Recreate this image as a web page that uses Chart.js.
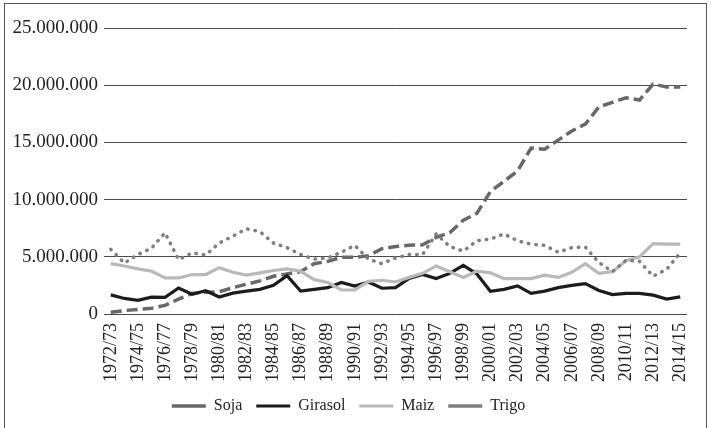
<!DOCTYPE html>
<html>
<head>
<meta charset="utf-8">
<script src="https://cdn.jsdelivr.net/npm/chart.js@4/dist/chart.umd.min.js"></script>
<style>
  html,body{margin:0;padding:0;background:#fff;}
  #wrap{position:relative;width:711px;height:428px;overflow:hidden;}
  #frame{position:absolute;left:4px;top:3px;width:703px;height:430px;border:1px solid #555;box-sizing:border-box;pointer-events:none;}
  canvas{position:absolute;left:0;top:0;}
</style>
</head>
<body>
<div id="wrap">
<canvas id="c" width="711" height="428"></canvas>
<div id="frame"></div>
</div>
<script>
const categories = ["1972/73","1973/74","1974/75","1975/76","1976/77","1977/78","1978/79","1979/80","1980/81","1981/82","1982/83","1983/84","1984/85","1985/86","1986/87","1987/88","1988/89","1989/90","1990/91","1991/92","1992/93","1993/94","1994/95","1995/96","1996/97","1997/98","1998/99","1999/00","2000/01","2001/02","2002/03","2003/04","2004/05","2005/06","2006/07","2007/08","2008/09","2009/10","2010/11","2011/12","2012/13","2013/14","2014/15"];

const soja = [150000,300000,400000,500000,750000,1300000,1800000,1900000,1950000,2300000,2600000,2900000,3300000,3500000,3700000,4400000,4600000,4950000,4950000,5100000,5700000,5900000,6000000,6050000,6700000,7100000,8200000,8800000,10700000,11600000,12500000,14500000,14400000,15200000,16000000,16600000,18100000,18500000,18900000,18700000,20100000,19850000,19850000];
const girasol = [1670000,1360000,1200000,1480000,1450000,2270000,1730000,2030000,1480000,1820000,2000000,2150000,2500000,3350000,2000000,2150000,2300000,2750000,2450000,2800000,2250000,2300000,3100000,3450000,3100000,3550000,4250000,3500000,1980000,2150000,2450000,1800000,2000000,2300000,2500000,2650000,2050000,1700000,1800000,1800000,1650000,1300000,1500000];
const maiz = [4400000,4200000,3950000,3750000,3150000,3150000,3450000,3450000,4050000,3650000,3400000,3600000,3800000,3950000,3750000,3000000,2750000,2100000,2100000,2850000,2950000,2800000,3200000,3550000,4200000,3700000,3200000,3750000,3600000,3100000,3100000,3100000,3400000,3200000,3650000,4400000,3550000,3700000,4650000,5000000,6150000,6100000,6100000];
const trigo = [5650000,4450000,5200000,5750000,7100000,4750000,5350000,5150000,6200000,6800000,7450000,7200000,6200000,5800000,5200000,4800000,4900000,5400000,6000000,4800000,4400000,4900000,5200000,5200000,7000000,5900000,5500000,6400000,6550000,7000000,6400000,6100000,6000000,5400000,5800000,5850000,4500000,3700000,4700000,4600000,3300000,3900000,5350000];

const yTicks = [0,5000000,10000000,15000000,20000000,25000000];

function fmt(v){ return String(Math.round(v)).replace(/\B(?=(\d{3})+(?!\d))/g, "."); }

const FONT = "'Liberation Serif', 'DejaVu Serif', serif";

new Chart(document.getElementById('c'), {
  type: 'line',
  data: {
    labels: categories,
    datasets: [
      {label:'Soja', data: soja, borderColor:'#686868', backgroundColor:'#686868', borderWidth:3.5, borderDash:[11,5], pointRadius:0, pointStyle:'line', tension:0, order:3},
      {label:'Girasol', data: girasol, borderColor:'#1c1c1c', backgroundColor:'#1c1c1c', borderWidth:3.2, pointRadius:0, pointStyle:'line', tension:0, order:2},
      {label:'Maiz', data: maiz, borderColor:'#b9b9b9', backgroundColor:'#b9b9b9', borderWidth:3.2, pointRadius:0, pointStyle:'line', tension:0, order:1},
      {label:'Trigo', data: trigo, borderColor:'#7e7e7e', backgroundColor:'#7e7e7e', borderWidth:3.5, borderDash:[0.5,7], borderCapStyle:'round', pointRadius:0, pointStyle:'line', tension:0, order:0}
    ]
  },
  options: {
    responsive:false,
    animation:false,
    devicePixelRatio:1,
    layout:{padding:{left:0,right:14,top:28,bottom:4}},
    plugins:{
      tooltip:{enabled:false},
      legend:{
        position:'bottom',
        labels:{
          usePointStyle:true,
          pointStyleWidth:34,
          boxHeight:10,
          padding:14,
          color:'#222',
          font:{family:FONT,size:16},
          sort:(a,b)=>a.datasetIndex-b.datasetIndex
        }
      }
    },
    scales:{
      x:{
        offset:true,
        grid:{display:false,drawTicks:false},
        border:{display:false},
        ticks:{
          autoSkip:false,
          maxRotation:90,
          minRotation:90,
          padding:9,
          color:'#222',
          font:{family:FONT,size:18},
          callback:function(val,i){ return i%2===0 ? this.getLabelForValue(val) : null; }
        },
        afterFit:(s)=>{ s.height = 70; }
      },
      y:{
        min:0,max:25000000,
        afterBuildTicks:(s)=>{ s.ticks = yTicks.map(v=>({value:v})); },
        grid:{color:'#4a4a4a',lineWidth:1,drawTicks:false},
        border:{display:false},
        ticks:{
          padding:6,
          color:'#222',
          font:{family:FONT,size:19},
          callback:(v)=>fmt(v)
        },
        afterFit:(s)=>{ s.width = 104; }
      }
    }
  }
});
</script>
</body>
</html>
